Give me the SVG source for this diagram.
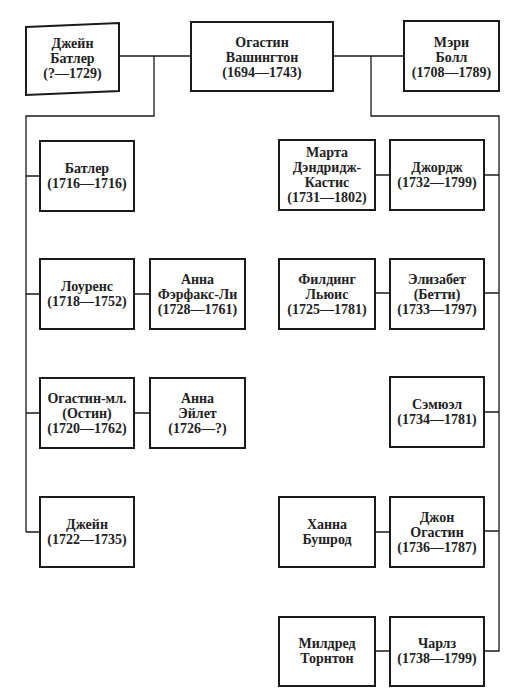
<svg xmlns="http://www.w3.org/2000/svg" width="519" height="700" viewBox="0 0 519 700">
<style>
.box{fill:#fff;stroke:#1a1a1a;stroke-width:2}
.ln{fill:none;stroke:#1a1a1a;stroke-width:1.3}
text{font-family:"Liberation Serif","Times New Roman",serif;font-weight:bold;font-size:14px;fill:#222;text-anchor:middle}
</style>
<rect width="519" height="700" fill="#fff"/>
<g id="connectors">
<path class="ln" d="M119,56H191M154,56V116H26V532M26,176H40M26,294H40M26,413H40M26,532H40M134,294H150M134,413H150"/>
<path class="ln" d="M333,56H404M371,56V116H499V651H484M484,175H499M484,293H499M484,412H499M484,531H499M375,175H390M375,293H390M375,532H390M375,651H390"/>
</g>
<g id="jane_butler"><polygon class="box" points="26,27 119,23 119,91 26,95"/><text><tspan x="72.5" y="48">Джейн</tspan><tspan x="72.5" y="63">Батлер</tspan><tspan x="72.5" y="78">(?—1729)</tspan></text></g>
<g id="augustine"><rect class="box" x="191" y="22" width="142" height="69"/><text><tspan x="262" y="47">Огастин</tspan><tspan x="262" y="62">Вашингтон</tspan><tspan x="262" y="77">(1694—1743)</tspan></text></g>
<g id="mary"><rect class="box" x="404" y="21" width="95" height="70"/><text><tspan x="451.5" y="47">Мэри</tspan><tspan x="451.5" y="62">Болл</tspan><tspan x="451.5" y="77">(1708—1789)</tspan></text></g>
<g id="butler"><rect class="box" x="40" y="141" width="94" height="70"/><text><tspan x="87" y="173">Батлер</tspan><tspan x="87" y="188">(1716—1716)</tspan></text></g>
<g id="lawrence"><rect class="box" x="40" y="259" width="94" height="70"/><text><tspan x="87" y="291">Лоуренс</tspan><tspan x="87" y="306">(1718—1752)</tspan></text></g>
<g id="anne_fairfax"><rect class="box" x="150" y="259" width="95" height="70"/><text><tspan x="197.5" y="284">Анна</tspan><tspan x="197.5" y="299">Фэрфакс-Ли</tspan><tspan x="197.5" y="314">(1728—1761)</tspan></text></g>
<g id="augustine_jr"><rect class="box" x="40" y="378" width="94" height="70"/><text><tspan x="87" y="403">Огастин-мл.</tspan><tspan x="87" y="418">(Остин)</tspan><tspan x="87" y="433">(1720—1762)</tspan></text></g>
<g id="anne_aylett"><rect class="box" x="150" y="378" width="95" height="70"/><text><tspan x="197.5" y="403">Анна</tspan><tspan x="197.5" y="418">Эйлет</tspan><tspan x="197.5" y="433">(1726—?)</tspan></text></g>
<g id="jane"><rect class="box" x="40" y="497" width="94" height="70"/><text><tspan x="87" y="529">Джейн</tspan><tspan x="87" y="544">(1722—1735)</tspan></text></g>
<g id="martha"><rect class="box" x="279" y="140" width="96" height="70"/><text><tspan x="327" y="157">Марта</tspan><tspan x="327" y="172">Дэндридж-</tspan><tspan x="327" y="187">Кастис</tspan><tspan x="327" y="202">(1731—1802)</tspan></text></g>
<g id="george"><rect class="box" x="390" y="140" width="94" height="70"/><text><tspan x="437" y="172">Джордж</tspan><tspan x="437" y="187">(1732—1799)</tspan></text></g>
<g id="fielding"><rect class="box" x="279" y="259" width="96" height="70"/><text><tspan x="327" y="284">Филдинг</tspan><tspan x="327" y="299">Льюис</tspan><tspan x="327" y="314">(1725—1781)</tspan></text></g>
<g id="elizabeth"><rect class="box" x="390" y="259" width="94" height="70"/><text><tspan x="437" y="284">Элизабет</tspan><tspan x="437" y="299">(Бетти)</tspan><tspan x="437" y="314">(1733—1797)</tspan></text></g>
<g id="samuel"><rect class="box" x="390" y="377" width="94" height="70"/><text><tspan x="437" y="409">Сэмюэл</tspan><tspan x="437" y="424">(1734—1781)</tspan></text></g>
<g id="hannah"><rect class="box" x="279" y="497" width="96" height="70"/><text><tspan x="327" y="529">Ханна</tspan><tspan x="327" y="544">Бушрод</tspan></text></g>
<g id="john"><rect class="box" x="390" y="497" width="94" height="70"/><text><tspan x="437" y="522">Джон</tspan><tspan x="437" y="537">Огастин</tspan><tspan x="437" y="552">(1736—1787)</tspan></text></g>
<g id="mildred"><rect class="box" x="279" y="617" width="96" height="69"/><text><tspan x="327" y="648">Милдред</tspan><tspan x="327" y="663">Торнтон</tspan></text></g>
<g id="charles"><rect class="box" x="390" y="617" width="94" height="69"/><text><tspan x="437" y="648">Чарлз</tspan><tspan x="437" y="663">(1738—1799)</tspan></text></g>
</svg>
